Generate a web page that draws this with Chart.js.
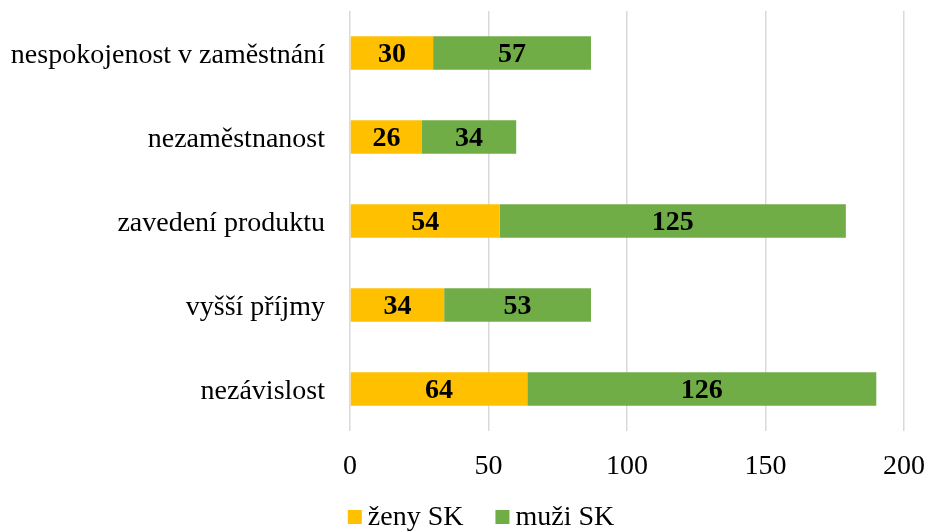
<!DOCTYPE html>
<html>
<head>
<meta charset="utf-8">
<script src="https://cdn.jsdelivr.net/npm/chart.js@4/dist/chart.umd.min.js"></script>
<style>
  html, body { margin: 0; padding: 0; background: #fff; }
  #wrap { width: 930px; height: 532px; }
</style>
</head>
<body>
<div id="wrap"><canvas id="myChart"></canvas></div>
<script>
const categories = ["nespokojenost v zaměstnání", "nezaměstnanost", "zavedení produktu", "vyšší příjmy", "nezávislost"];
const zenyValues = [30, 26, 54, 34, 64];
const muziValues = [57, 34, 125, 53, 126];
const xTicks = [0, 50, 100, 150, 200];

const FONT = "'Liberation Serif', 'Times New Roman', serif";

// Draw numbers in the middle of each bar segment
const barLabels = {
  id: "barLabels",
  afterDatasetsDraw(chart) {
    const ctx = chart.ctx;
    ctx.save();
    ctx.font = "bold 28px " + FONT;
    ctx.fillStyle = "#000";
    ctx.textAlign = "center";
    ctx.textBaseline = "middle";
    chart.data.datasets.forEach((ds, i) => {
      chart.getDatasetMeta(i).data.forEach((bar, j) => {
        const cx = (bar.x + bar.base) / 2;
        ctx.fillText(ds.data[j], cx, bar.y + 2);
      });
    });
    ctx.restore();
  }
};

// Simple legend at the bottom (tight gap between box and text like the original)
const bottomLegend = {
  id: "bottomLegend",
  afterDraw(chart) {
    const ctx = chart.ctx;
    ctx.save();
    ctx.font = "28px " + FONT;
    ctx.textBaseline = "middle";
    ctx.textAlign = "left";
    const box = 14, gap = 6, itemGap = 32;
    const items = chart.data.datasets.map(ds => ({
      text: ds.label, color: ds.backgroundColor, w: ctx.measureText(ds.label).width
    }));
    let total = 0;
    items.forEach((it, i) => { total += box + gap + it.w + (i < items.length - 1 ? itemGap : 0); });
    let x = 481 - total / 2;
    const y = 517;
    items.forEach(it => {
      ctx.fillStyle = it.color;
      ctx.fillRect(x, y - box / 2, box, box);
      ctx.fillStyle = "#000";
      ctx.fillText(it.text, x + box + gap, y + 1);
      x += box + gap + it.w + itemGap;
    });
    ctx.restore();
  }
};

const ctx = document.getElementById("myChart").getContext("2d");
const chart = new Chart(ctx, {
  type: "bar",
  data: {
    labels: categories,
    datasets: [
      { label: "ženy SK", data: zenyValues, backgroundColor: "#FFC000" },
      { label: "muži SK", data: muziValues, backgroundColor: "#70AD47" }
    ]
  },
  options: {
    indexAxis: "y",
    responsive: true,
    maintainAspectRatio: false,
    animation: false,
    layout: { padding: { top: 11, right: 26, left: 0, bottom: 38 } },
    datasets: { bar: { categoryPercentage: 1, barPercentage: 0.4 } },
    scales: {
      x: {
        stacked: true,
        min: 0,
        max: 200,
        afterBuildTicks(scale) {
          scale.ticks = xTicks.map(v => ({ value: v }));
        },
        afterFit(scale) {
          scale.height = 63;
          scale.paddingLeft = 0;
          scale.paddingRight = 0;
        },
        grid: { color: "#d9d9d9", lineWidth: 1.5, drawTicks: false },
        border: { display: false },
        ticks: { color: "#000", font: { family: FONT, size: 28 }, padding: 19, maxRotation: 0 }
      },
      y: {
        stacked: true,
        afterFit(scale) {
          scale.width = 350;
          scale.paddingTop = 0;
          scale.paddingBottom = 0;
        },
        grid: { display: false, drawTicks: false },
        border: { display: false },
        ticks: { color: "#000", font: { family: FONT, size: 28 }, padding: 25, labelOffset: 3 }
      }
    },
    plugins: {
      legend: { display: false },
      tooltip: { enabled: false }
    }
  },
  plugins: [barLabels, bottomLegend]
});
</script>
</body>
</html>
